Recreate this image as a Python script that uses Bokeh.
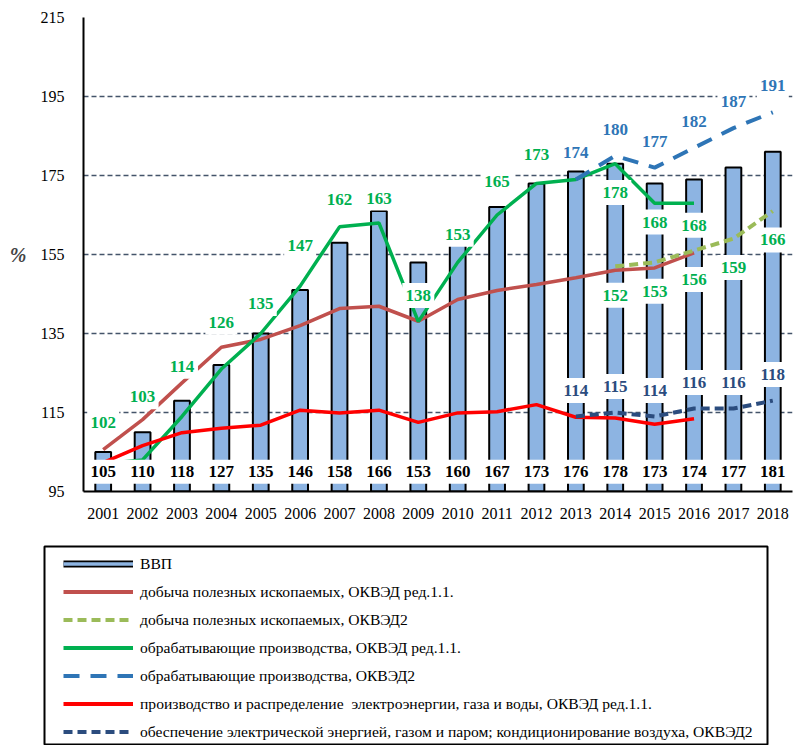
from bokeh.plotting import figure
from bokeh.models import FactorRange, Range1d, FixedTicker, Legend, LegendItem
from bokeh.layouts import column
from bokeh.embed import file_html
from bokeh.resources import INLINE
from bokeh.core.properties import value

# ---------------- data ----------------
years = [str(y) for y in range(2001, 2019)]
gdp = [105, 110, 118, 127, 135, 146, 158, 166, 153, 160, 167, 173, 176, 178, 173, 174, 177, 181]

mining11_years = years[:16]
mining11 = [105.6, 113.2, 122.5, 131.5, 133.5, 137.0, 141.3, 141.9, 138.1, 143.6, 145.9, 147.4,
            149.1, 151.0, 151.6, 155.4]

mining2_years = years[13:]
mining2 = [152, 153, 156, 159, 166]

manuf11_years = years[:16]
manuf11 = [102, 103, 114, 126, 135, 147, 162, 163, 138, 153, 165, 173, 174, 178, 168, 168]

manuf2_years = years[12:]
manuf2 = [174, 180, 177, 182, 187, 191]

elec11_years = years[:16]
elec11 = [102.3, 106.6, 109.9, 111.0, 111.8, 115.6, 114.9, 115.6, 112.5, 114.9, 115.2, 117.0,
          113.8, 113.6, 112.0, 113.4]

elec2_years = years[12:]
elec2 = [114, 115, 114, 116, 116, 118]

# which manufacturing (ред.1.1) values carry a label (2013 is labelled by ОКВЭД2 series)
manuf11_label_idx = [0, 1, 2, 3, 4, 5, 6, 7, 8, 9, 10, 11, 13, 14, 15]
# label offsets (in axis units, + above / - below the point)
manuf11_label_offset = [10.4, 16.0, 12.7, 11.9, 7.6, 10.4, 6.8, 6.3, 6.6, 7.1, 8.6, 7.3, -7.3, -4.8, -5.6]
mining2_label_offset = -7.3
manuf2_label_offset = 6.7
elec2_label_offset = 6.6

y_ticks = [95, 115, 135, 155, 175, 195, 215]

legend_labels = [
    "ВВП",
    "добыча полезных ископаемых, ОКВЭД ред.1.1.",
    "добыча полезных ископаемых, ОКВЭД2",
    "обрабатывающие производства, ОКВЭД ред.1.1.",
    "обрабатывающие производства, ОКВЭД2",
    "производство и распределение  электроэнергии, газа и воды, ОКВЭД ред.1.1.",
    "обеспечение электрической энергией, газом и паром; кондиционирование воздуха, ОКВЭД2",
]

# ---------------- styles ----------------
C_BAR = "#8DB4E2"
C_MIN11 = "#C0504D"
C_MIN2 = "#9BBB59"
C_MAN11 = "#00B050"
C_MAN2 = "#2E75B6"
C_EL11 = "#FF0000"
C_EL2 = "#2B4C7E"
C_LBL_GREEN = "#00B050"
C_LBL_BLUE = "#2E75B6"
C_LBL_NAVY = "#2B4C7E"
FONT = "'Liberation Serif', 'Times New Roman', serif"

p = figure(frame_width=709, frame_height=474, x_range=FactorRange(*years, range_padding=0),
           y_range=Range1d(y_ticks[0], y_ticks[-1]),
           toolbar_location=None, output_backend="svg",
           min_border_left=83, min_border_right=2, min_border_top=17, min_border_bottom=46)
p.frame_align = False
p.outline_line_color = None
p.xgrid.visible = False
p.ygrid.ticker = FixedTicker(ticks=y_ticks)
p.ygrid.grid_line_color = "#44546A"
p.ygrid.grid_line_dash = "5 3"
p.ygrid.grid_line_width = 1.3

p.yaxis.ticker = FixedTicker(ticks=y_ticks)
for ax in (p.xaxis, p.yaxis):
    ax.axis_line_width = 2
    ax.axis_line_color = "black"
    ax.major_tick_line_color = None
    ax.minor_tick_line_color = None
    ax.major_label_text_font = FONT
    ax.major_label_text_font_size = "16px"
    ax.major_label_text_color = "black"
p.xaxis.major_label_standoff = 10
p.yaxis.major_label_standoff = 13
p.yaxis.axis_label = "%"
p.yaxis.axis_label_orientation = "horizontal"
p.yaxis.axis_label_text_font = FONT
p.yaxis.axis_label_text_font_style = "bold italic"
p.yaxis.axis_label_text_font_size = "20px"
p.yaxis.axis_label_standoff = 11

# bars
r_bar = p.vbar(x=years, top=gdp, bottom=y_ticks[0], width=0.4, fill_color=C_BAR,
               line_color="black", line_width=2)

# lines
r_min11 = p.line(mining11_years, mining11, line_color=C_MIN11, line_width=3.5)
r_min2 = p.line(mining2_years, mining2, line_color=C_MIN2, line_width=4, line_dash="9 5")
r_man11 = p.line(manuf11_years, manuf11, line_color=C_MAN11, line_width=3.5)
r_man2 = p.line(manuf2_years, manuf2, line_color=C_MAN2, line_width=4, line_dash="16 11")
r_el11 = p.line(elec11_years, elec11, line_color=C_EL11, line_width=3.5)
r_el2 = p.line(elec2_years, elec2, line_color=C_EL2, line_width=4, line_dash="9 5")


def labels(xs, ys, offsets, texts, color, bw=32, bh=25):
    ly = [y + o for y, o in zip(ys, offsets)]
    p.rect(x=xs, y=ly, width=bw, height=bh, width_units="screen", height_units="screen",
           fill_color="white", line_color=None)
    p.text(x=xs, y=ly, text=texts, text_align="center", text_baseline="middle",
           text_font=value(FONT), text_font_style="bold", text_font_size="17px",
           text_color=color)


# GDP labels in a band at the bottom
gdp_label_y = [y_ticks[0] + 5.0] * len(years)
labels(years, gdp_label_y, [0] * len(years), [str(v) for v in gdp], "black", bw=40, bh=24)

# manufacturing ред.1.1 labels
labels([manuf11_years[i] for i in manuf11_label_idx], [manuf11[i] for i in manuf11_label_idx],
       manuf11_label_offset, [str(manuf11[i]) for i in manuf11_label_idx], C_LBL_GREEN)
# mining ОКВЭД2 labels
labels(mining2_years, mining2, [mining2_label_offset] * len(mining2),
       [str(v) for v in mining2], C_LBL_GREEN)
# manufacturing ОКВЭД2 labels
labels(manuf2_years, manuf2, [manuf2_label_offset] * len(manuf2),
       [str(v) for v in manuf2], C_LBL_BLUE)
# electricity ОКВЭД2 labels
labels(elec2_years, elec2, [elec2_label_offset] * len(elec2),
       [str(v) for v in elec2], C_LBL_NAVY)

# ---------------- legend panel ----------------
p2 = figure(frame_width=723, frame_height=199, x_range=Range1d(0, 1), y_range=Range1d(0, 1),
            toolbar_location=None, output_backend="svg", x_axis_type=None, y_axis_type=None,
            min_border_left=44, min_border_right=27, min_border_top=9, min_border_bottom=0)
p2.frame_align = False
p2.outline_line_color = "black"
p2.outline_line_width = 2

# legend-only sample renderers (placed outside the visible range)
off = dict(x=[-5, -4], y=[-5, -4])
lg_bar_out = p2.line(**off, line_color="black", line_width=7)
lg_bar_in = p2.line(**off, line_color=C_BAR, line_width=3.5)
lg_min11 = p2.line(**off, line_color=C_MIN11, line_width=4)
lg_min2 = p2.line(**off, line_color=C_MIN2, line_width=4, line_dash="9 5")
lg_man11 = p2.line(**off, line_color=C_MAN11, line_width=4)
lg_man2 = p2.line(**off, line_color=C_MAN2, line_width=4, line_dash="16 11")
lg_el11 = p2.line(**off, line_color=C_EL11, line_width=4)
lg_el2 = p2.line(**off, line_color=C_EL2, line_width=4, line_dash="9 5")

items = [
    LegendItem(label=legend_labels[0], renderers=[lg_bar_out, lg_bar_in]),
    LegendItem(label=legend_labels[1], renderers=[lg_min11]),
    LegendItem(label=legend_labels[2], renderers=[lg_min2]),
    LegendItem(label=legend_labels[3], renderers=[lg_man11]),
    LegendItem(label=legend_labels[4], renderers=[lg_man2]),
    LegendItem(label=legend_labels[5], renderers=[lg_el11]),
    LegendItem(label=legend_labels[6], renderers=[lg_el2]),
]
legend = Legend(items=items, location=(19, 3), orientation="vertical",
                border_line_color=None, background_fill_alpha=0, padding=0, margin=0,
                spacing=7, glyph_width=70, glyph_height=21, label_height=21,
                label_standoff=7, label_text_font=FONT, label_text_font_size="15.6px",
                label_text_color="black")
p2.add_layout(legend)

layout = column(p, p2, spacing=0)
open("out.html", "w").write(file_html(layout, INLINE))
